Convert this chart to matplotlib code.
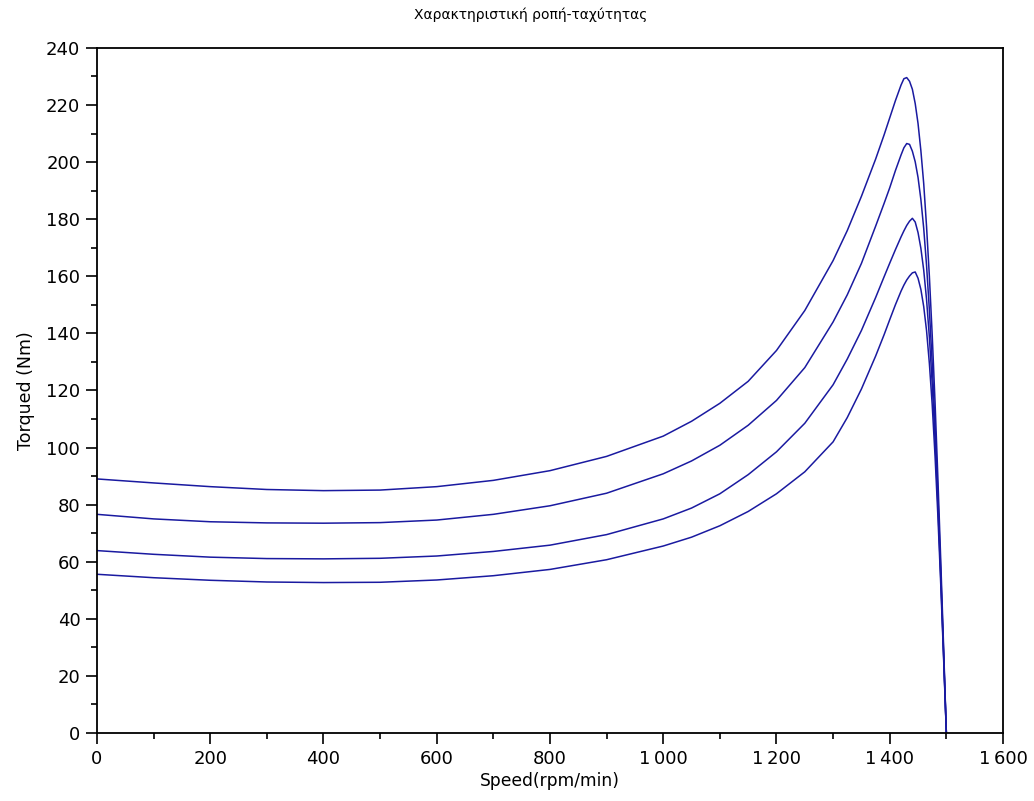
import matplotlib
matplotlib.use("Agg")
import matplotlib.pyplot as plt
from matplotlib.ticker import MultipleLocator, FuncFormatter

# Motor speed (rpm) and torque (Nm) for four operating conditions
speed = [0, 100, 200, 300, 400, 500, 600, 700, 800, 900, 1000,
         1050, 1100, 1150, 1200, 1250, 1300,
         1325, 1350, 1375, 1390,
         1400, 1410, 1420, 1425, 1430, 1435, 1440, 1445, 1450, 1455,
         1460, 1465, 1470, 1475, 1480, 1485, 1490, 1495, 1500]

torque_1 = [89.0, 87.6, 86.3, 85.3, 84.9, 85.1, 86.3, 88.5, 91.9, 96.9, 104.0,
            109.2, 115.5, 123.2, 134.0, 148.0, 165.5,
            176.0, 188.0, 201.0, 209.5,
            215.5, 221.5, 227.0, 229.2, 229.6, 228.3, 225.5, 220.5, 213.5, 204.0,
            192.5, 177.5, 160.0, 139.5, 116.0, 89.5, 61.0, 31.0, 0.0]
torque_2 = [76.6, 75.0, 74.0, 73.6, 73.5, 73.7, 74.6, 76.6, 79.6, 84.0, 90.8,
            95.3, 100.8, 107.8, 116.5, 128.0, 144.0,
            153.5, 164.5, 177.5, 185.5,
            191.0, 197.0, 202.5, 205.0, 206.5, 206.2, 203.8, 200.1, 194.6, 186.9,
            176.8, 163.9, 148.2, 129.5, 107.9, 83.6, 57.1, 29.0, 0.0]
torque_3 = [63.9, 62.6, 61.6, 61.1, 61.0, 61.2, 62.0, 63.6, 65.8, 69.5, 75.0,
            78.8, 83.8, 90.5, 98.5, 108.5, 122.0,
            131.0, 141.0, 152.5, 159.8,
            164.6, 169.3, 173.8, 175.9, 177.8, 179.3, 180.3, 179.0, 175.3, 169.8,
            162.2, 151.9, 138.7, 122.3, 102.7, 80.2, 55.0, 28.0, 0.0]
torque_4 = [55.6, 54.4, 53.5, 52.9, 52.7, 52.8, 53.6, 55.1, 57.3, 60.7, 65.5,
            68.6, 72.6, 77.6, 83.8, 91.5, 102.0,
            110.5, 120.5, 132.0, 139.5,
            144.8, 150.0, 154.8, 156.9, 158.7, 160.1, 161.2, 161.5, 159.3, 155.4,
            149.4, 141.0, 129.5, 115.0, 97.1, 76.2, 52.5, 26.8, 0.0]

curves = [torque_1, torque_2, torque_3, torque_4]

title = "Χαρακτηριστική ροπή-ταχύτητας"
xlabel = "Speed(rpm/min)"
ylabel = "Torqued (Nm)"

plt.rcParams['font.family'] = ['DejaVu Sans']

fig = plt.figure(figsize=(10.34, 8.01), dpi=100)
ax = fig.add_axes([0.0938, 0.0849, 0.8762, 0.8553])

line_color = "#1a1aa0"
for tq in curves:
    ax.plot(speed, tq, color=line_color, linewidth=1.1)

ax.set_xlim(0, 1600)
ax.set_ylim(0, 240)

ax.xaxis.set_major_locator(MultipleLocator(200))
ax.xaxis.set_minor_locator(MultipleLocator(100))
ax.yaxis.set_major_locator(MultipleLocator(20))
ax.yaxis.set_minor_locator(MultipleLocator(10))


def group_thousands(v, pos):
    s = f"{int(round(v)):d}"
    if len(s) > 3:
        s = s[:-3] + "\u2009" + s[-3:]
    return s


ax.xaxis.set_major_formatter(FuncFormatter(group_thousands))

ax.tick_params(axis="both", which="major", direction="out", length=8,
               width=1.2, labelsize=13, colors="black", pad=4)
ax.tick_params(axis="both", which="minor", direction="out", length=4,
               width=1.2)
ax.tick_params(top=False, right=False)

for sp in ax.spines.values():
    sp.set_linewidth(1.3)
    sp.set_color("black")

ax.set_xlabel(xlabel, fontsize=12.3, labelpad=3)
ax.set_ylabel(ylabel, fontsize=12.5, labelpad=8)
fig.text(0.513, 0.982, title, ha="center", va="center", fontsize=10)

fig.savefig("out.png", dpi=100, facecolor="white")
